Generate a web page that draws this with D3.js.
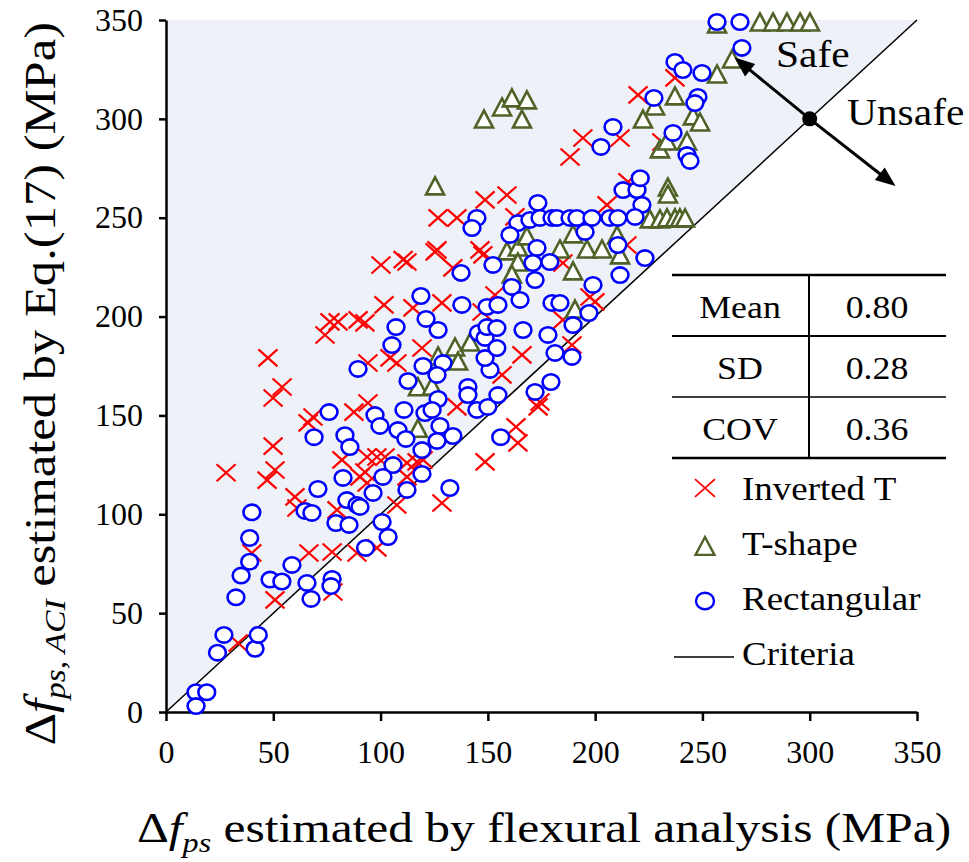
<!DOCTYPE html>
<html><head><meta charset="utf-8">
<script src="https://cdn.jsdelivr.net/npm/d3@7"></script>
<style>body{margin:0;background:#fff}</style></head>
<body><svg id="c" width="969" height="862"></svg>
<script>
const xTicks=[0,50,100,150,200,250,300,350];
const yTicks=[0,50,100,150,200,250,300,350];
const invertedT=[
[49.9,134.5],[28,121],[50.8,122.4],[47.1,117.3],[61,103.2],[82,127.5],[79.7,102.2],[40,80.4],[66.6,80.4],[77.4,80.9],[89,80.4],[50.8,56.7],[77.8,60.7],[33.6,34.9],[90.4,118.9],
[100.2,226.1],[112.3,227.6],[110.5,228.8],[125.4,232.7],[101.6,205.9],[115.1,204.4],[128.6,206.9],[76.4,197.3],[80.2,197.3],[74.1,190.7],[89.5,198.3],[92.7,196.8],[119.3,184.1],[94.1,176.5],[104.4,179.1],[107.6,176.5],[47.5,179.1],[54.1,164.4],[49.9,158.8],[94.1,156.3],[87.6,151.7],[68.5,149.2],[66.2,146.2],[93.7,129],[98.3,129],[102.1,129],[92.7,121.4],[93.7,115.8],[112.3,126],[60.1,108.8],[119.8,127.5],[135.6,154.3],[117,126.5],[112.3,118.9],[128.6,105.7],[107.6,104.7],[148.7,126.5],[98.3,83],
[148.7,259],[158.9,261.5],[126.8,249.9],[135.6,249.9],[126.3,233.7],[146.3,233.7],[147.7,231.2],[133.7,224.6],[153.3,210.9],[147.3,202.3],[165.9,180.6],[185,227.1],[185,198.3],[162.6,250.4],[156.6,170.5],[189.2,185.6],[174.3,156.8],[173.4,154.3],[163.1,144.2],[164,136.1],[199.9,207.4],[205.5,256.5],[197.6,209.9],[214.8,236.2],[237.2,320.7],[220,312.1],[211.6,290.3],[231.1,288.3],[194.3,290.3],[188.3,280.7],[215.3,268.1]
];
const tShape=[
[117.4,164],[117.4,143],[134.7,184.1],[136.1,177],[126.8,179.6],[124,164.4],[141.7,186.6],[125.4,265.6],[158.9,232.7],[164,234.7],[168.2,240.3],[164,227.1],[161.2,221],[183.6,233.7],[189.7,222.6],[189.7,241.3],[190.6,203.3],[233.9,265],[233.9,261.5],[225.5,248.9],[230.2,248.9],[233.5,249.4],[237.2,249.4],[239.5,249.4],[241.9,249.4],[196.2,233.7],[203.2,233.7],[211.6,230.7],[210.2,240.8],[256.8,347.5],[276.8,348.5],[282.9,348.5],[289.4,348.5],[295.5,348.5],[300.1,348.5],[263.8,329.8],[256.8,322.2],[237.2,311.1],[227.9,306],[222.3,299.4],[245.6,301],[248.9,297.9],[230.2,284.3],[233.5,288.3],[242.8,288.3],[148.2,299.4],[156.6,305.5],[161.2,310.1],[168.2,309.1],[165.9,299.4]
];
const rectangular=[
[14,10],[19,10],[14,3],[24,30],[27,39],[41.5,32],[43,39],[32.6,58],[35,69],[39,76],[39,88],[40,101],[48.5,67],[54,66],[58.7,74.4],[65.7,65.3],[67.6,57.2],[70.8,112.8],[64.8,101.7],[68,100.7],[79.2,95.6],[85.3,94.6],[82.5,118.4],[84.3,107.2],[89,104.7],[77.4,67.3],[76.9,63.7],[69,139],[83.4,140],[85.7,134],[93,83],
[118.8,210.4],[121.2,198.8],[126.8,193.2],[107.2,194.7],[105.3,185.6],[89.5,173.5],[112.8,167.4],[119.8,175],[129.1,176.5],[126.3,170.5],[126.8,158.3],[110.9,152.8],[120.7,151.2],[124,152.8],[97.4,150.2],[99.7,144.7],[108.1,142.6],[111.8,138.1],[119.3,132.5],[127.7,144.7],[126.3,137.1],[76,151.7],[105.8,124.9],[101.1,118.9],[119.3,120.4],[112.3,112.3],[96.5,110.8],[132.3,113.3],[145.6,191.7],[148.7,189.2],[140.7,164.4],[140.7,160.3],[151,173],[148.7,179],[154.2,184.1],[144.9,152.8],[150,154.3],[133.7,139.6],[90.4,103.7],[100.7,96.1],[103.5,88.5],[156,139],
[173.3,257.5],[144.9,249.9],[142.6,244.8],[164,247.3],[169.6,248.9],[174.3,249.9],[179.9,249.9],[182.2,249.9],[188.3,249.9],[191.5,249.9],[160.3,241.3],[172.9,234.7],[171,227.1],[178.9,227.6],[172,218.5],[152.4,226.1],[137.5,222.1],[161.2,215],[165,208.4],[149.6,204.9],[154.7,205.9],[179.9,206.9],[183.6,206.9],[137.9,205.9],[149.6,194.7],[154.2,194.2],[166.4,193.2],[178,190.7],[181.3,181.6],[189.2,179.6],[189.7,195.7],[197.1,201.8],[179.4,166.9],[172,161.9],[154.7,160.3],
[213,264],[219.5,264],[221,270],[221.8,256.5],[198.5,249.9],[206.9,249.9],[210.6,249.9],[218.6,250.4],[195.3,242.8],[210.6,236.2],[223.2,229.6],[211.6,221],[199,216],[256.8,349],[267.5,349],[268.4,335.9],[237.2,328.8],[240.9,324.7],[249.8,323.2],[227.4,310.6],[247.9,311.1],[246.5,308],[208.3,295.9],[202.7,285.8],[236.3,292.9],[242.8,281.7],[244.2,278.7]
];
const criteria=[[0,0],[350,350]];
const statNames=["Mean","SD","COV"];
const statValues=["0.80","0.28","0.36"];
const legendNames=["Inverted T","T-shape","Rectangular","Criteria"];
const arrowCenter=[300,300];
const arrowTips=[[265,331],[340,266]];

const svg=d3.select("#c");
const x=d3.scaleLinear().domain([0,350]).range([166,917]);
const y=d3.scaleLinear().domain([0,350]).range([712,20]);
const serif="'Liberation Serif','Times New Roman',serif";
const RED="#FF0000", OLIVE="#4F6228", BLUE="#0000FF";

// safe region
svg.append("path")
  .attr("d",d3.line()([[x(0),y(0)],[x(0),y(350)],[x(350),y(350)]])+"Z")
  .attr("fill","#EEF2F8");

// axes
const xa=svg.append("g").attr("transform",`translate(0,${y(0)})`)
  .call(d3.axisBottom(x).tickValues(xTicks).tickSize(9).tickSizeOuter(0).tickPadding(19));
const ya=svg.append("g").attr("transform",`translate(${x(0)},0)`)
  .call(d3.axisLeft(y).tickValues(yTicks).tickSize(7).tickSizeOuter(0).tickPadding(16));
[xa,ya].forEach(g=>{
  g.select(".domain").attr("stroke","#000").attr("stroke-width",2.5);
  g.selectAll(".tick line").attr("stroke","#000").attr("stroke-width",2.5);
  g.selectAll(".tick text").attr("font-family",serif).attr("font-size",32).attr("fill","#000");
});

// criteria line
svg.append("path").attr("d",d3.line().x(d=>x(d[0])).y(d=>y(d[1]))(criteria))
  .attr("stroke","#000").attr("stroke-width",1.5).attr("fill","none");

// marker shapes
const cross=(cx,cy,s=1)=>`M${cx-9.5*s},${cy-8.5*s}L${cx+9.5*s},${cy+8.5*s}M${cx-9.5*s},${cy+8.5*s}L${cx+9.5*s},${cy-8.5*s}`;
const tri=(cx,cy,s=1)=>`M${cx},${cy-9.5*s}L${cx+9*s},${cy+7.5*s}L${cx-9*s},${cy+7.5*s}Z`;

svg.append("g").selectAll("path").data(invertedT).join("path")
  .attr("d",d=>cross(x(d[0]),y(d[1]))).attr("stroke",RED).attr("stroke-width",2.2).attr("fill","none");
svg.append("g").selectAll("path").data(tShape).join("path")
  .attr("d",d=>tri(x(d[0]),y(d[1]))).attr("stroke",OLIVE).attr("stroke-width",2.6).attr("fill","#fff");
svg.append("g").selectAll("ellipse").data(rectangular).join("ellipse")
  .attr("cx",d=>x(d[0])).attr("cy",d=>y(d[1])).attr("rx",8.4).attr("ry",7.7)
  .attr("stroke",BLUE).attr("stroke-width",2.6).attr("fill","#fff");

// arrows
const cx0=x(arrowCenter[0]), cy0=y(arrowCenter[1]);
arrowTips.forEach(t=>{
  const tx=x(t[0]), ty=y(t[1]);
  const dx=tx-cx0, dy=ty-cy0, L=Math.hypot(dx,dy), ux=dx/L, uy=dy/L;
  const hl=20, hw=8;
  const bx=tx-ux*hl, by=ty-uy*hl;
  svg.append("line").attr("x1",cx0).attr("y1",cy0).attr("x2",bx+ux*2).attr("y2",by+uy*2)
    .attr("stroke","#000").attr("stroke-width",3);
  svg.append("path").attr("d",`M${tx},${ty}L${bx-uy*hw},${by+ux*hw}L${bx+uy*hw},${by-ux*hw}Z`).attr("fill","#000");
});
svg.append("circle").attr("cx",cx0).attr("cy",cy0).attr("r",7.5).attr("fill","#000");

function stext(px,py,str,size,sx,anchor){
  return svg.append("text").attr("transform",`translate(${px},${py}) scale(${sx},1)`)
    .attr("font-family",serif).attr("font-size",size).attr("text-anchor",anchor||"start")
    .attr("fill","#000").text(str);
}
stext(776,67,"Safe",37,1.12);
stext(847,125,"Unsafe",37,1.12);

// stats table
const tb=svg.append("g");
[[275,2.5],[336,2],[397,1.5],[458,2.5]].forEach(r=>{
  tb.append("line").attr("x1",672).attr("x2",946).attr("y1",r[0]).attr("y2",r[0]).attr("stroke","#000").attr("stroke-width",r[1]);
});
tb.append("line").attr("x1",809).attr("x2",809).attr("y1",275).attr("y2",458).attr("stroke","#000").attr("stroke-width",2);
const rowY=[318,379,440];
statNames.forEach((s,i)=>{ stext(740,rowY[i],s,32,1.12,"middle"); stext(877,rowY[i],statValues[i],32,1.12,"middle"); });

// legend
const legY=[500,555,610,665];
legendNames.forEach((s,i)=>stext(742,legY[i],s,33,1.12));
svg.append("path").attr("d",cross(705,488,1.05)).attr("stroke",RED).attr("stroke-width",1.8).attr("fill","none");
svg.append("path").attr("d",tri(705,547,1.05)).attr("stroke",OLIVE).attr("stroke-width",2.4).attr("fill","#fff");
svg.append("ellipse").attr("cx",705).attr("cy",601).attr("rx",9).attr("ry",8.3).attr("stroke",BLUE).attr("stroke-width",2.4).attr("fill","#fff");
svg.append("line").attr("x1",674).attr("x2",734).attr("y1",657).attr("y2",657).attr("stroke","#000").attr("stroke-width",1.5);

// x label
const xl=svg.append("text").attr("transform","translate(137,842) scale(1.15,1)")
  .attr("font-family",serif).attr("font-size",43).attr("fill","#000");
xl.append("tspan").text("Δ");
xl.append("tspan").attr("font-style","italic").text("f");
xl.append("tspan").attr("font-style","italic").attr("font-size",28).attr("dy",10).text("ps");
xl.append("tspan").attr("dy",-10).text(" estimated by flexural analysis (MPa)");

// y label
const yl=svg.append("text").attr("transform","translate(55,22) rotate(-90) scale(1.15,1)")
  .attr("font-family",serif).attr("font-size",44).attr("fill","#000").attr("text-anchor","end");
yl.append("tspan").text("Δ");
yl.append("tspan").attr("font-style","italic").text("f");
yl.append("tspan").attr("font-style","italic").attr("font-size",29).attr("dy",10).text("ps, ACI");
yl.append("tspan").attr("dy",-10).text(" estimated by Eq.(17) (MPa)");
</script></body></html>
